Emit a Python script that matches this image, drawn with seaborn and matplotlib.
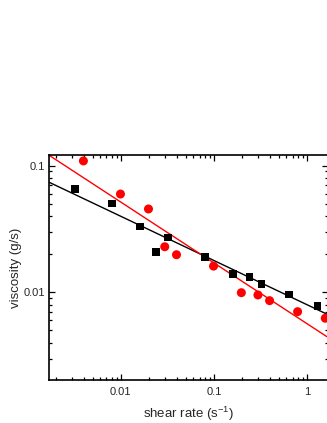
import numpy as np
import pandas as pd
import matplotlib
matplotlib.use("Agg")
import matplotlib.pyplot as plt
import matplotlib.ticker as mticker
import seaborn as sns

# ---- data ----
black_rate = [0.00323, 0.00806, 0.0161, 0.0240, 0.0323, 0.0806, 0.161, 0.240, 0.323, 0.645, 1.29]
black_visc = [0.0651, 0.0504, 0.0330, 0.0209, 0.0270, 0.0191, 0.0140, 0.0132, 0.0116, 0.00964, 0.00780]
red_rate = [0.00396, 0.00990, 0.0198, 0.0296, 0.0396, 0.0990, 0.197, 0.297, 0.396, 0.792, 1.57]
red_visc = [0.109, 0.0597, 0.0455, 0.0229, 0.0198, 0.0161, 0.00993, 0.00953, 0.00859, 0.00703, 0.00624]
# power-law fits: viscosity = prefactor * rate ** exponent
black_fit = (0.00798, -0.349)
red_fit = (0.00565, -0.480)

x_ticks = [0.01, 0.1, 1]
x_ticklabels = ["0.01", "0.1", "1"]
y_ticks = [0.01, 0.1]
y_ticklabels = ["0.01", "0.1"]
x_label = "shear rate (s$^{-1}$)"
y_label = "viscosity (g/s)"
xlim = (0.00169, 1.68)
ylim = (0.00203, 0.1214)

sns.set_style("ticks")
plt.rcParams["font.family"] = ["Liberation Sans", "DejaVu Sans"]
plt.rcParams["mathtext.fontset"] = "custom"
plt.rcParams["mathtext.rm"] = "Liberation Sans"
plt.rcParams["mathtext.it"] = "Liberation Sans"

fig = plt.figure(figsize=(3.27, 4.23), dpi=100)
ax = fig.add_axes([49 / 327, 1 - 380 / 423, 279 / 327, 225 / 423])

df_b = pd.DataFrame({"rate": black_rate, "visc": black_visc})
df_r = pd.DataFrame({"rate": red_rate, "visc": red_visc})

xs = np.logspace(np.log10(xlim[0]), np.log10(xlim[1]), 50)
fit_b = pd.DataFrame({"rate": xs, "visc": black_fit[0] * xs ** black_fit[1]})
fit_r = pd.DataFrame({"rate": xs, "visc": red_fit[0] * xs ** red_fit[1]})

sns.lineplot(data=fit_b, x="rate", y="visc", color="black", lw=1.0, ax=ax, zorder=2)
sns.lineplot(data=fit_r, x="rate", y="visc", color="red", lw=1.0, ax=ax, zorder=2)
sns.scatterplot(data=df_b, x="rate", y="visc", marker="s", s=30, color="black",
                edgecolor="none", ax=ax, zorder=3)
sns.scatterplot(data=df_r, x="rate", y="visc", marker="o", s=42, color="red",
                edgecolor="none", ax=ax, zorder=3)

ax.set_xscale("log")
ax.set_yscale("log")
ax.set_xlim(*xlim)
ax.set_ylim(*ylim)
ax.xaxis.set_major_locator(mticker.FixedLocator(x_ticks))
ax.xaxis.set_major_formatter(mticker.FixedFormatter(x_ticklabels))
ax.yaxis.set_major_locator(mticker.FixedLocator(y_ticks))
ax.yaxis.set_major_formatter(mticker.FixedFormatter(y_ticklabels))
ax.xaxis.set_minor_locator(mticker.LogLocator(base=10, subs=np.arange(2, 10)))
ax.yaxis.set_minor_locator(mticker.LogLocator(base=10, subs=np.arange(2, 10)))
ax.xaxis.set_minor_formatter(mticker.NullFormatter())
ax.yaxis.set_minor_formatter(mticker.NullFormatter())

for s in ax.spines.values():
    s.set_visible(True)
    s.set_linewidth(1.2)
    s.set_color("black")

ax.tick_params(which="both", direction="in", top=True, right=True, color="black", width=0.9)
ax.tick_params(which="major", length=4)
ax.tick_params(which="minor", length=2.2)
ax.tick_params(axis="x", which="major", labelsize=8, pad=5)
ax.tick_params(axis="y", which="major", labelsize=8, pad=3)

ax.set_xlabel(x_label, fontsize=9.5, labelpad=6)
ax.set_ylabel(y_label, fontsize=9.5, labelpad=1)

fig.savefig("out.png", dpi=100)
